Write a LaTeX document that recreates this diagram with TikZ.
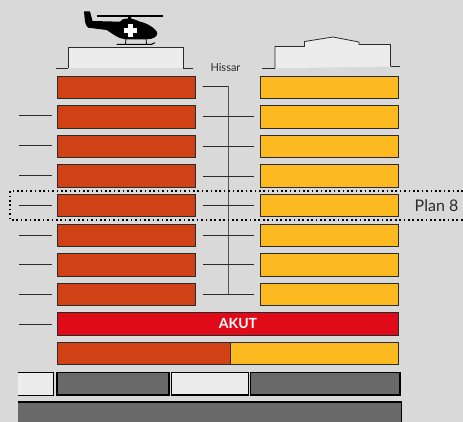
\documentclass[tikz,border=0pt]{standalone}
\usepackage{fontspec}
\setmainfont{Lato}
\usetikzlibrary{positioning}

\definecolor{wallbg}{HTML}{D9D9D9}
\definecolor{roofwhite}{HTML}{ECECEC}
\definecolor{floorred}{HTML}{D04116}
\definecolor{flooryellow}{HTML}{FDB920}
\definecolor{akutred}{HTML}{E00B18}
\definecolor{basegray}{HTML}{696969}
\definecolor{linedark}{HTML}{2B2B2B}

\begin{document}
\begin{tikzpicture}[
    x=1pt, y=-1pt,
    node distance=7.1pt and 65.7pt,
    floorbox/.style={rectangle, draw=linedark, line width=0.9pt, inner sep=0pt, outer sep=0pt, minimum width=138pt, minimum height=22.5pt},
    redfloor/.style={floorbox, fill=floorred},
    yellowfloor/.style={floorbox, fill=flooryellow},
    basebox/.style={floorbox, draw=black, line width=1.1pt, fill=basegray},
    tick/.style={draw=linedark, line width=0.8pt},
    roof/.style={draw=linedark, line width=0.8pt, fill=roofwhite}
]
\clip (0,0) rectangle (463,422);
\fill [wallbg] (0,0) rectangle (463,422);

% floors
\node [redfloor, anchor=north west] (red1) at (57,76) {};
\node [redfloor, below=of red1] (red2) {};
\node [redfloor, below=of red2] (red3) {};
\node [redfloor, below=of red3] (red4) {};
\node [redfloor, below=of red4] (red5) {};
\node [redfloor, below=of red5] (red6) {};
\node [redfloor, below=of red6] (red7) {};
\node [redfloor, below=of red7] (red8) {};
\node [yellowfloor, right=of red1] (yellow1) {};
\node [yellowfloor, right=of red2] (yellow2) {};
\node [yellowfloor, right=of red3] (yellow3) {};
\node [yellowfloor, right=of red4] (yellow4) {};
\node [yellowfloor, right=of red5] (yellow5) {};
\node [yellowfloor, right=of red6] (yellow6) {};
\node [yellowfloor, right=of red7] (yellow7) {};
\node [yellowfloor, right=of red8] (yellow8) {};

% lower floors
\node [floorbox, fill=akutred, minimum width=341.5pt, below=of red8.south west, anchor=north west] (akut) {};
\node [font=\fontsize{14}{16}\selectfont\bfseries, text=white] (akutlabel) at (238,323.3) {AKUT};
\node [floorbox, fill=floorred, minimum width=173pt, below=of akut.south west, anchor=north west] (mixred) {};
\node [floorbox, fill=flooryellow, minimum width=168.5pt, anchor=west] (mixyellow) at (mixred.east) {};
\node [basebox, minimum width=112pt, anchor=west] (gray1) at (57,383.7) {};
\node [basebox, fill=roofwhite, minimum width=77pt, anchor=west] (white1) at (171.5,383.7) {};
\node [basebox, minimum width=149.5pt, anchor=west] (gray2) at (250.5,383.7) {};
\node [rectangle, fill=roofwhite, inner sep=0pt, minimum width=35.5pt, minimum height=22.5pt, anchor=east] (white0) at (53.5,383.7) {};
\node [rectangle, fill=basegray, inner sep=0pt, minimum width=383pt, minimum height=24pt, anchor=north west] (ground) at (18,402) {};
\draw [black, line width=1.1pt] (white0.north west) -- (white0.north east) -- (white0.south east) -- (white0.south west);
\draw [black, line width=1.1pt] (ground.north west) -- (ground.north east) -- (ground.south east);

% roofs
\draw [roof, fill=none] (56,68) -- (68,68);
\draw [roof, fill=none] (183,68) -- (193,68);
\path [roof, draw=none] (68,68) -- (68,47.5) -- (183,47.5) -- (183,68) -- cycle;
\draw [linedark, line width=0.8pt] (68,68) -- (68,47.5) -- (183,47.5) -- (183,68);
\draw [roof, fill=none] (262,68.3) -- (275,68.3);
\draw [roof, fill=none] (390.5,66.5) -- (400,66.5);
\path [roof, draw=none] (275,68.3) -- (275,46.5) -- (304.5,46.5) -- (304.5,41.5) -- (333,37) -- (359,42) -- (359,44.5) -- (390.5,44.5) -- (390.5,66.5) -- cycle;
\draw [linedark, line width=0.8pt] (275,68.3) -- (275,46.5) -- (304.5,46.5) -- (304.5,41.5) -- (333,37) -- (359,42) -- (359,44.5) -- (390.5,44.5) -- (390.5,66.5);

% helicopter
\fill [black] (84,11.5) -- (90,11.5) -- (92.5,21) -- (120,21.7) .. controls (121,19.5) and (123,19) .. (128,18.5) -- (128,16) -- (131,16) -- (131,18.5) .. controls (134,19) and (137,20.5) .. (140,21.7) .. controls (147,23) and (157,29) .. (157.3,33.5) .. controls (157.3,36.5) and (153,39.3) .. (146.7,39.3) -- (125,39.3) .. controls (118,38.5) and (113,34) .. (106.7,30) -- (88.3,27.7) .. controls (85.5,26) and (85,23) .. (84,11.5) -- cycle;
\draw [black, line width=1.1pt] (96.5,16) -- (163,16);
\draw [black, line width=1pt] (116.7,44.3) -- (151.7,44.3) -- (155,42.7);
\draw [black, line width=0.8pt] (126,39) -- (125.5,44) (146,39) -- (146.5,44);
\fill [white] (128,24) rectangle (132.5,37.5);
\fill [white] (123.5,28.5) rectangle (137,33);

% corridor
\coordinate (corridortop) at (228,86.5);
\coordinate (corridorend) at (228,294.5);
\draw [tick, draw=linedark!80] (corridortop) -- (corridorend);
\draw [tick] (red1.east) ++(7.5,-0.7) -- (corridortop);
\node [font=\fontsize{11}{13}\selectfont, text=linedark] (hissar) at (225.5,67.5) {Hissar};
\node [font=\fontsize{16}{18}\selectfont, text=linedark] (plan) at (436.5,205.5) {Plan 8};

% ticks between the buildings
\path [tick, shorten <=7.5pt, shorten >=6.5pt] (red2) -- (yellow2);
\path [tick, shorten <=7.5pt, shorten >=6.5pt] (red3) -- (yellow3);
\path [tick, shorten <=7.5pt, shorten >=6.5pt] (red4) -- (yellow4);
\path [tick, shorten <=7.5pt, shorten >=6.5pt] (red5) -- (yellow5);
\path [tick, shorten <=7.5pt, shorten >=6.5pt] (red6) -- (yellow6);
\path [tick, shorten <=7.5pt, shorten >=6.5pt] (red7) -- (yellow7);
\path [tick, shorten <=7.5pt, shorten >=6.5pt] (red8) -- (yellow8);

% ticks on the left
\coordinate (left2) at (18.5,115.5);
\coordinate (left3) at (18.5,145);
\coordinate (left4) at (18.5,175.5);
\coordinate (left5) at (18.5,205);
\coordinate (left6) at (18.5,235);
\coordinate (left7) at (18.5,264.5);
\coordinate (left8) at (18.5,294.5);
\coordinate (leftakut) at (18.5,324.5);
\path [tick, shorten >=5pt] (left2) -- (left2 -| red2.west);
\path [tick, shorten >=5pt] (left3) -- (left3 -| red3.west);
\path [tick, shorten >=5pt] (left4) -- (left4 -| red4.west);
\path [tick, shorten >=5pt] (left5) -- (left5 -| red5.west);
\path [tick, shorten >=5pt] (left6) -- (left6 -| red6.west);
\path [tick, shorten >=5pt] (left7) -- (left7 -| red7.west);
\path [tick, shorten >=5pt] (left8) -- (left8 -| red8.west);
\path [tick, shorten >=5pt] (leftakut) -- (leftakut -| akut.west);

% plan frame
\draw [black, line width=1.7pt, dash pattern=on 1.7pt off 2.7pt] (463,191) -- (10,191) -- (10,220) -- (463,220);
\end{tikzpicture}
\end{document}
